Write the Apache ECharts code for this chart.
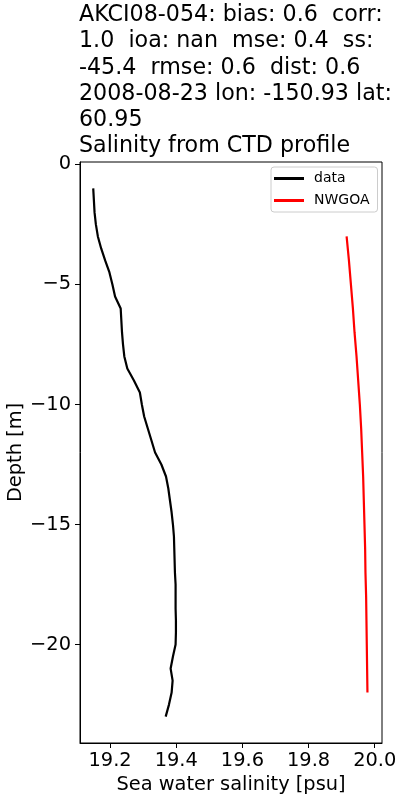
<!DOCTYPE html>
<html>
<head>
<meta charset="utf-8">
<script src="https://cdn.jsdelivr.net/npm/echarts@6/dist/echarts.min.js"></script>
<style>
html,body{margin:0;padding:0;background:#fff;}
#c{width:400px;height:800px;}
</style>
</head>
<body>
<div id="c"></div>
<script>
// Observed CTD profile (black)
const dataDepth = [-1, -1.5, -2, -2.5, -3, -3.5, -4, -4.5, -5, -5.5, -6, -6.5, -7, -7.5, -8, -8.5, -9, -9.5, -10, -10.5, -11, -11.5, -12, -12.5, -13, -13.5, -14, -14.5, -15, -15.5, -16, -16.5, -17, -17.5, -18, -18.5, -19, -19.5, -20, -20.5, -21, -21.5, -22, -22.5, -23];
const dataSalinity = [19.149, 19.151, 19.153, 19.157, 19.163, 19.173, 19.185, 19.198, 19.207, 19.215, 19.232, 19.234, 19.236, 19.239, 19.243, 19.252, 19.272, 19.290, 19.296, 19.303, 19.314, 19.325, 19.336, 19.355, 19.369, 19.376, 19.381, 19.386, 19.390, 19.393, 19.394, 19.395, 19.396, 19.398, 19.398, 19.398, 19.399, 19.399, 19.398, 19.390, 19.383, 19.389, 19.386, 19.378, 19.368];
// Model profile (red)
const modelDepth = [-3, -4, -5, -6, -7, -8, -9, -10, -11, -12, -13, -14, -15, -16, -17, -18, -19, -20, -21, -22];
const modelSalinity = [19.915, 19.922, 19.928, 19.934, 19.939, 19.945, 19.950, 19.955, 19.959, 19.962, 19.965, 19.967, 19.969, 19.971, 19.972, 19.974, 19.975, 19.976, 19.977, 19.978];
// Ticks
const xTicks = [19.2, 19.4, 19.6, 19.8, 20.0];
const yTicks = [0, -5, -10, -15, -20];
const seriesNames = ['data', 'NWGOA'];
const titleLines = [
  'AKCI08-054: bias: 0.6  corr:',
  '1.0  ioa: nan  mse: 0.4  ss:',
  '-45.4  rmse: 0.6  dist: 0.6',
  '2008-08-23 lon: -150.93 lat:',
  '60.95',
  'Salinity from CTD profile'
];

const FONT = 'DejaVu Sans';
const pairs = (xs, ys) => xs.map((x, i) => [x, ys[i]]);
const minus = s => String(s).replace('-', '\u2212');

const chart = echarts.init(document.getElementById('c'), null, {renderer: 'canvas'});
chart.setOption({
  animation: false,
  backgroundColor: '#ffffff',
  textStyle: {fontFamily: FONT},
  title: {
    text: titleLines.join('\n'),
    left: 79,
    top: 2,
    padding: 0,
    textStyle: {fontFamily: FONT, fontSize: 22.2, fontWeight: 'normal', color: '#000', lineHeight: 26.3}
  },
  legend: {
    orient: 'vertical',
    left: 271,
    top: 167,
    padding: [3, 8, 3, 3],
    itemGap: 5,
    itemWidth: 30,
    itemHeight: 3,
    icon: 'rect',
    borderColor: '#cccccc',
    borderWidth: 1,
    borderRadius: 3,
    backgroundColor: 'rgba(255,255,255,0.8)',
    textStyle: {fontFamily: FONT, fontSize: 14, color: '#000', lineHeight: 17, padding: [0, 0, 0, 5]},
    data: seriesNames
  },
  grid: {left: 80, right: 18, top: 162, bottom: 57, show: true, borderColor: '#000', borderWidth: 1, containLabel: false, outerBoundsMode: 'none'},
  xAxis: {
    type: 'value',
    min: 19.109,
    max: 20.022,
    name: 'Sea water salinity [psu]',
    nameLocation: 'middle',
    nameGap: 32,
    nameTextStyle: {fontFamily: FONT, fontSize: 19.4, color: '#000'},
    axisLine: {show: true, onZero: false, lineStyle: {color: '#000', width: 1}},
    axisTick: {show: true, length: 5, inside: false, customValues: xTicks, lineStyle: {color: '#000', width: 1}},
    axisLabel: {customValues: xTicks, margin: 8, fontFamily: FONT, fontSize: 19.4, color: '#000', formatter: v => v.toFixed(1)},
    splitLine: {show: false}
  },
  yAxis: {
    type: 'value',
    min: -24.1,
    max: 0.1,
    name: 'Depth [m]',
    nameLocation: 'middle',
    nameGap: 55,
    nameMoveOverlap: false,
    nameRotate: 90,
    nameTextStyle: {fontFamily: FONT, fontSize: 19.4, color: '#000'},
    axisLine: {show: true, onZero: false, lineStyle: {color: '#000', width: 1}},
    axisTick: {show: true, length: 5, inside: false, customValues: yTicks, lineStyle: {color: '#000', width: 1}},
    axisLabel: {customValues: yTicks, margin: 9, fontFamily: FONT, fontSize: 19.4, color: '#000', formatter: v => minus(v)},
    splitLine: {show: false}
  },
  series: [
    {
      name: seriesNames[0], type: 'line', showSymbol: false, symbol: 'none',
      data: pairs(dataSalinity, dataDepth),
      lineStyle: {color: '#000000', width: 2.2}, itemStyle: {color: '#000000'}
    },
    {
      name: seriesNames[1], type: 'line', showSymbol: false, symbol: 'none',
      data: pairs(modelSalinity, modelDepth),
      lineStyle: {color: '#ff0000', width: 2.2}, itemStyle: {color: '#ff0000'}
    }
  ]
});
</script>
</body>
</html>
